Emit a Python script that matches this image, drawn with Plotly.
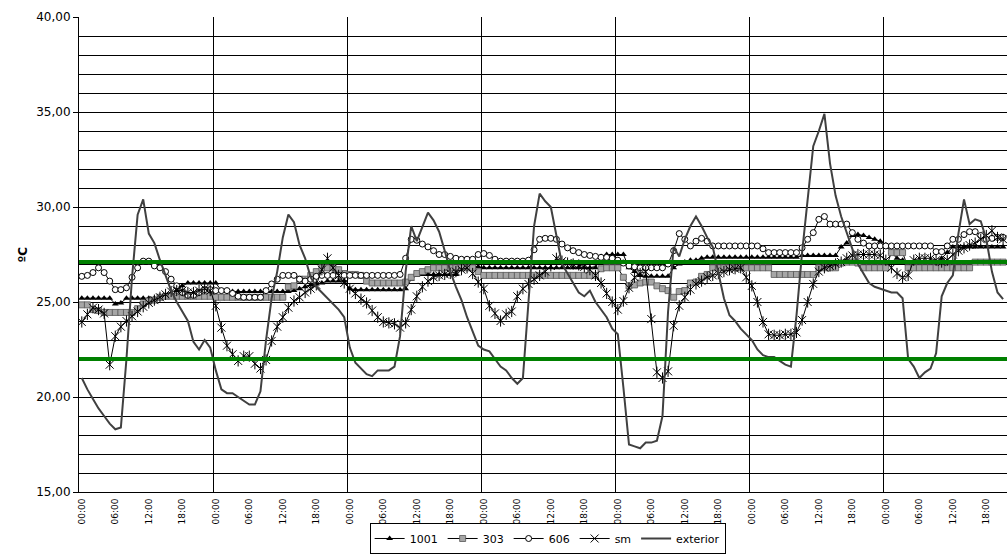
import plotly.graph_objects as go

# ---------------- data ----------------
hour_labels = ["00:00", "06:00", "12:00", "18:00"]
y_tick_values = [15, 20, 25, 30, 35, 40]
y_tick_labels = ["15,00", "20,00", "25,00", "30,00", "35,00", "40,00"]
upper_limit = 27.1
lower_limit = 22.0

s1001 = [
    25.2, 25.2, 25.2, 25.2, 25.2, 25.2, 24.9, 24.95, 25.2, 25.2, 25.2, 25.2, 25.2, 25.2, 25.3, 25.3, 25.3, 25.6, 25.85, 26.0, 26.0, 26.0, 26.0, 26.0,
    26.0, 25.6, 25.55, 25.55, 25.55, 25.55, 25.55, 25.55, 25.55, 25.55, 25.55, 25.55, 25.55, 25.55, 25.6, 25.7, 25.8, 25.9, 25.95, 26.0, 26.1, 26.1, 26.1, 26.1,
    25.7, 25.65, 25.65, 25.65, 25.65, 25.65, 25.65, 25.65, 25.65, 25.65, 25.7, 26.2, 26.4, 26.45, 26.45, 26.45, 26.45, 26.45, 26.45, 26.45, 26.9, 26.9, 26.9, 26.85,
    26.8, 26.8, 26.8, 26.8, 26.8, 26.8, 26.8, 26.8, 26.8, 26.8, 26.8, 26.8, 26.8, 26.8, 26.8, 26.8, 26.8, 26.8, 26.8, 26.8, 26.8, 27.4, 27.5, 27.5,
    27.5, 27.5, 26.8, 26.6, 26.4, 26.35, 26.35, 26.35, 26.35, 26.35, 26.8, 27.0, 27.1, 27.2, 27.2, 27.3, 27.35, 27.35, 27.35, 27.35, 27.35, 27.35, 27.35, 27.35,
    27.35, 27.35, 27.35, 27.35, 27.35, 27.35, 27.35, 27.35, 27.35, 27.45, 27.45, 27.45, 27.45, 27.45, 27.45, 27.45, 27.9, 28.1, 28.5, 28.55, 28.5, 28.4, 28.3, 28.2,
    28.0, 27.6, 27.3, 27.2, 27.0, 26.9, 26.8, 26.8, 26.8, 26.9, 27.3, 27.6, 27.9, 27.9, 27.9, 27.9, 27.9, 27.9, 27.9, 27.9, 27.9, 27.9,
]

s303 = [
    24.85, 24.85, 24.6, 24.55, 24.45, 24.45, 24.45, 24.45, 24.45, 24.45, 24.65, 24.9, 25.05, 25.1, 25.25, 25.3, 25.3, 25.3, 25.3, 25.3, 25.3, 25.3, 25.3, 25.3,
    25.25, 25.25, 25.25, 25.25, 25.25, 25.25, 25.25, 25.25, 25.25, 25.25, 25.25, 25.25, 25.25, 25.8, 25.85, 26.2, 26.2, 26.4, 26.6, 26.8, 26.8, 26.8, 26.7, 26.5,
    26.45, 26.45, 26.4, 26.1, 26.0, 26.0, 26.0, 26.0, 26.0, 26.0, 26.05, 26.3, 26.5, 26.6, 26.7, 26.8, 26.8, 26.8, 26.8, 26.8, 26.8, 26.8, 26.8, 26.6,
    26.4, 26.4, 26.4, 26.4, 26.4, 26.4, 26.4, 26.4, 26.4, 26.4, 26.4, 26.4, 26.4, 26.4, 26.4, 26.4, 26.4, 26.4, 26.4, 26.4, 26.4, 26.75, 26.8, 26.8,
    26.8, 26.3, 25.85, 25.9, 26.0, 26.05, 26.05, 25.85, 25.7, 25.6, 25.25, 25.55, 25.6, 26.0, 26.05, 26.35, 26.45, 26.8, 26.8, 26.8, 26.8, 26.8, 26.8, 26.8,
    26.8, 26.8, 26.8, 26.8, 26.45, 26.45, 26.45, 26.45, 26.45, 26.45, 26.45, 26.45, 26.8, 26.8, 26.8, 26.8, 27.05, 27.1, 27.1, 27.05, 26.8, 26.8, 26.8, 26.8,
    26.8, 27.6, 27.6, 27.6, 26.8, 26.8, 26.8, 26.8, 26.8, 26.8, 26.8, 26.8, 26.8, 26.8, 26.8, 26.8, 27.1, 27.1, 27.1, 27.1, 27.1, 27.1,
]

s606 = [
    26.35, 26.4, 26.55, 26.8, 26.55, 26.1, 25.65, 25.65, 25.75, 26.3, 26.8, 27.15, 27.15, 26.9, 26.8, 26.6, 26.2, 25.85, 25.5, 25.35, 25.35, 25.5, 25.65, 25.65,
    25.6, 25.6, 25.6, 25.45, 25.3, 25.25, 25.25, 25.25, 25.25, 25.6, 25.95, 26.2, 26.4, 26.4, 26.4, 26.2, 26.1, 26.2, 26.35, 26.4, 26.4, 26.4, 26.4, 26.4,
    26.4, 26.4, 26.4, 26.4, 26.4, 26.4, 26.4, 26.4, 26.4, 26.45, 27.3, 28.3, 28.25, 28.05, 27.9, 27.7, 27.5, 27.5, 27.4, 27.3, 27.25, 27.25, 27.25, 27.5,
    27.55, 27.45, 27.25, 27.15, 27.15, 27.15, 27.15, 27.15, 27.2, 27.75, 28.3, 28.35, 28.35, 28.3, 28.05, 27.85, 27.7, 27.6, 27.5, 27.45, 27.4, 27.35, 27.35, 27.3,
    27.2, 27.05, 26.9, 26.85, 26.8, 26.8, 26.8, 26.8, 26.8, 27.0, 27.7, 28.6, 28.3, 27.95, 28.2, 28.35, 28.2, 27.95, 27.95, 27.95, 27.95, 27.95, 27.95, 27.95,
    27.95, 27.95, 27.8, 27.6, 27.6, 27.6, 27.6, 27.6, 27.6, 27.85, 28.3, 28.65, 29.35, 29.5, 29.1, 29.1, 29.1, 29.1, 28.65, 28.3, 28.1, 27.95, 27.95, 27.95,
    27.95, 27.95, 27.95, 27.95, 27.95, 27.95, 27.95, 27.95, 27.95, 27.65, 27.65, 27.95, 28.3, 28.3, 28.55, 28.7, 28.7, 28.5, 28.3, 28.35, 28.4, 28.4,
]

sm = [
    23.95, 24.35, 24.7, 24.6, 24.4, 21.7, 23.2, 23.7, 24.0, 24.25, 24.5, 24.75, 24.95, 25.1, 25.25, 25.4, 25.55, 25.6, 25.6, 25.5, 25.5, 25.6, 25.7, 25.6,
    24.8, 23.65, 22.7, 22.25, 21.9, 22.15, 22.15, 21.75, 21.5, 21.95, 22.95, 23.7, 24.2, 24.7, 25.05, 25.25, 25.5, 25.7, 25.9, 26.7, 27.3, 26.8, 26.4, 26.0,
    25.7, 25.45, 25.15, 24.95, 24.55, 24.2, 23.95, 23.9, 23.85, 23.65, 23.9, 24.6, 25.3, 25.8, 26.1, 26.3, 26.4, 26.45, 26.5, 26.6, 26.7, 26.8, 26.5, 26.05,
    25.7, 24.8, 24.4, 24.0, 24.35, 24.5, 25.3, 25.7, 25.95, 26.2, 26.4, 26.6, 26.9, 27.3, 27.15, 27.05, 27.0, 26.95, 26.85, 26.7, 26.4, 26.0, 25.45, 25.0,
    24.6, 25.05, 25.75, 26.3, 26.5, 26.6, 24.1, 21.3, 21.0, 21.35, 23.75, 24.8, 25.25, 25.65, 25.95, 26.1, 26.3, 26.4, 26.5, 26.6, 26.7, 26.75, 26.8, 26.3,
    25.85, 25.0, 23.95, 23.3, 23.25, 23.25, 23.3, 23.3, 23.4, 24.05, 25.0, 25.95, 26.6, 26.8, 26.9, 27.0, 27.1, 27.3, 27.45, 27.5, 27.5, 27.5, 27.5, 27.45,
    27.2, 26.8, 26.5, 26.3, 26.4, 27.2, 27.3, 27.3, 27.3, 27.2, 27.1, 27.2, 27.5, 27.7, 27.85, 28.0, 28.1, 28.3, 28.5, 28.75, 28.4, 28.3,
]

exterior = [
    21.0, 20.4, 19.9, 19.4, 19.0, 18.6, 18.3, 18.4, 22.0, 26.3, 29.6, 30.4, 28.6, 28.1, 27.2, 26.4, 25.6, 25.0, 24.5, 24.0, 22.9, 22.5, 23.0, 22.6,
    21.4, 20.4, 20.2, 20.2, 20.0, 19.8, 19.6, 19.6, 20.3, 23.0, 25.2, 26.6, 28.4, 29.6, 29.2, 28.0, 27.3, 26.3, 25.8, 25.5, 25.2, 24.9, 24.6, 24.2,
    22.6, 21.8, 21.5, 21.2, 21.1, 21.4, 21.4, 21.4, 21.6, 23.2, 26.6, 29.0, 28.2, 28.9, 29.7, 29.3, 28.7, 27.7, 26.6, 25.8, 25.1, 24.2, 23.5, 22.7,
    22.5, 22.4, 22.0, 21.6, 21.4, 21.0, 20.7, 21.0, 25.0, 29.0, 30.7, 30.3, 30.0, 28.4, 27.0, 26.5, 26.0, 25.5, 25.3, 25.6, 25.0, 24.6, 24.2, 23.6,
    23.3, 20.5, 17.5, 17.4, 17.3, 17.6, 17.6, 17.7, 19.0, 24.5, 27.9, 27.4, 28.3, 29.0, 29.5, 29.0, 28.4, 27.9, 26.5, 25.2, 24.3, 24.0, 23.6, 23.3,
    23.0, 22.5, 22.2, 22.1, 22.1, 21.9, 21.7, 21.6, 24.3, 27.6, 30.4, 33.2, 34.0, 34.9, 32.3, 30.6, 29.5, 28.6, 27.8, 27.0, 26.5, 26.0, 25.8, 25.7,
    25.6, 25.5, 25.5, 25.2, 22.0, 21.6, 21.0, 21.3, 21.5, 22.3, 25.3, 26.0, 26.4, 28.6, 30.4, 29.1, 29.35, 29.25, 28.3, 26.6, 25.5, 25.15,
]

# ---------------- figure ----------------
n = len(exterior)
x = list(range(n))
tickvals = list(range(0, n, 6))
ticktext = [hour_labels[(t // 6) % 4] for t in tickvals]
day_bounds = [d * 24 - 0.5 for d in range(n // 24 + 1)]

FONT = "'DejaVu Sans', Arial, sans-serif"

fig = go.Figure()
fig.add_trace(go.Scatter(
    x=x, y=s1001, name="1001", mode="lines+markers",
    line=dict(color="black", width=1),
    marker=dict(symbol="triangle-up", size=6, color="black", line=dict(width=0)),
))
fig.add_trace(go.Scatter(
    x=x, y=s303, name="303", mode="lines+markers",
    line=dict(color="black", width=1),
    marker=dict(symbol="square", size=6, color="#a6a6a6", line=dict(color="#555555", width=0.8)),
))
fig.add_trace(go.Scatter(
    x=x, y=s606, name="606", mode="lines+markers",
    line=dict(color="black", width=1),
    marker=dict(symbol="circle", size=6, color="white", line=dict(color="black", width=1)),
))
fig.add_trace(go.Scatter(
    x=x, y=sm, name="sm", mode="lines+markers", legendgroup="sm",
    line=dict(color="black", width=1),
    marker=dict(symbol="x-thin-open", size=8, color="black", line=dict(color="black", width=1)),
))
fig.add_trace(go.Scatter(
    x=x, y=sm, name="sm", mode="markers", legendgroup="sm", showlegend=False,
    marker=dict(symbol="line-ns-open", size=8, color="black", line=dict(color="black", width=1)),
    hoverinfo="skip",
))
fig.add_trace(go.Scatter(
    x=x, y=exterior, name="exterior", mode="lines",
    line=dict(color="#404040", width=2),
))

for lim in (upper_limit, lower_limit):
    fig.add_hline(y=lim, line=dict(color="#008000", width=4), layer="above")

fig.add_annotation(
    text="<b>ºC</b>", xref="paper", yref="paper", x=-0.0614, y=0.5,
    xanchor="center", yanchor="middle", textangle=-90, showarrow=False,
    font=dict(size=12, color="black", family=FONT),
)

fig.update_layout(
    width=1007, height=556,
    margin=dict(l=79, r=0, t=17, b=64),
    plot_bgcolor="white", paper_bgcolor="white",
    font=dict(family=FONT, color="black", size=12),
    showlegend=True,
    legend=dict(
        orientation="h", x=0.505, xanchor="center", y=-0.1305, yanchor="bottom",
        bordercolor="black", borderwidth=1, font=dict(size=11, family=FONT),
        itemwidth=30, tracegroupgap=0,
    ),
    xaxis=dict(
        range=[-0.5, n - 0.3], tickmode="array", tickvals=tickvals, ticktext=ticktext,
        tickangle=-90, tickfont=dict(size=9), showgrid=False, zeroline=False,
        showline=True, linecolor="black", linewidth=1,
        ticks="outside", ticklen=2, tickcolor="rgba(0,0,0,0)",
        minor=dict(tickmode="array", tickvals=day_bounds, showgrid=True,
                   gridcolor="black", gridwidth=1, ticks=""),
    ),
    yaxis=dict(
        range=[15, 40], tickmode="array", tickvals=y_tick_values, ticktext=y_tick_labels,
        ticks="outside", ticklen=5, tickcolor="black", tickfont=dict(size=12),
        showline=True, linecolor="black", linewidth=1,
        showgrid=True, gridcolor="black", gridwidth=1, zeroline=False,
        minor=dict(tickmode="linear", tick0=15, dtick=1, showgrid=True,
                   gridcolor="black", gridwidth=1, ticks=""),
    ),
)

fig.write_html(
    "out.html",
    config={"displayModeBar": False},
    post_script="document.body.style.margin='0';",
)
